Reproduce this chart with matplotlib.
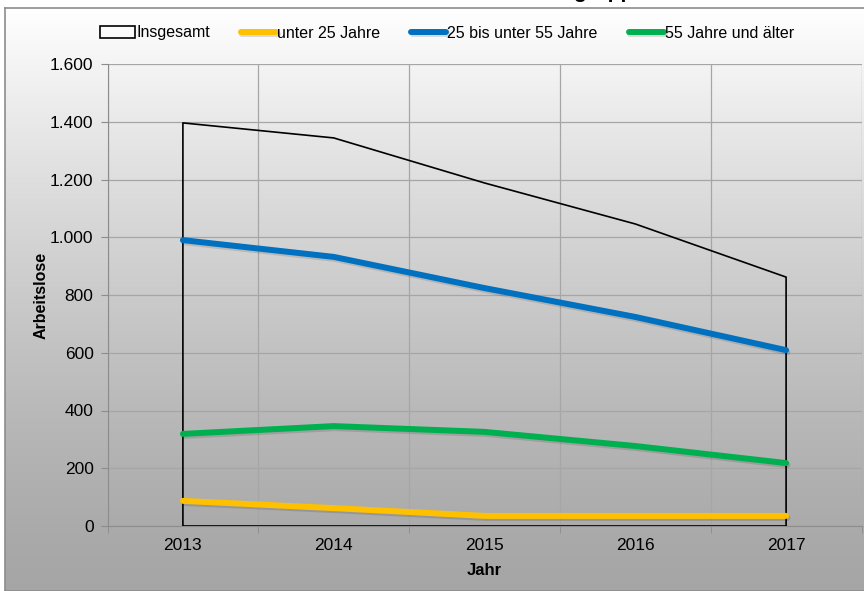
import numpy as np
import matplotlib
matplotlib.use("Agg")
import matplotlib.pyplot as plt
import matplotlib.patheffects as pe
from matplotlib.ticker import FuncFormatter, FixedLocator

plt.rcParams['font.family'] = ['Liberation Sans', 'DejaVu Sans']

# ---- data ----
years = [2013, 2014, 2015, 2016, 2017]
insgesamt = [1396, 1344, 1188, 1046, 862]
unter25 = [87, 62, 35, 35, 35]
mitte = [990, 932, 824, 724, 609]
ab55 = [319, 346, 326, 277, 218]

title = "Arbeitslose im Landkreis nach Altersgruppen"

fig = plt.figure(figsize=(8.64, 5.91), dpi=100)
fig.patch.set_facecolor("white")

# gradient background of the chart area
bg = fig.add_axes([5 / 864, 0, 1, (591 - 8) / 591])
grad = np.linspace(1, 0, 256).reshape(-1, 1) ** 1.3
grad = 0.65 + 0.35 * grad
bg.imshow(np.dstack([grad, grad, grad]), aspect="auto", extent=[0, 1, 0, 1])
bg.set_xticks([])
bg.set_yticks([])
for s in bg.spines.values():
    s.set_color("#8c8c8c")
    s.set_linewidth(1.2)

# title is cropped in the reference: only the descenders peek in at the top
fig.text(0.5, 1.0 + 2.5 / 591, title, ha="center", va="baseline",
         fontsize=15, fontweight="bold")

ax = fig.add_axes([107.5 / 864, 65 / 591, 754 / 864, 462 / 591])
ax.set_facecolor("none")

shadow = [pe.SimpleLineShadow(offset=(1, -1.5), alpha=0.12, shadow_color="black"), pe.Normal()]

ax.fill_between(years, insgesamt, facecolor="none", edgecolor="black",
                linewidth=1.2, label="Insgesamt", zorder=3)
ax.plot(years, unter25, color="#FFC000", lw=4.3, label="unter 25 Jahre",
        solid_capstyle="round", path_effects=shadow, zorder=4)
ax.plot(years, mitte, color="#0070C0", lw=4.3, label="25 bis unter 55 Jahre",
        solid_capstyle="round", path_effects=shadow, zorder=4)
ax.plot(years, ab55, color="#00B050", lw=4.3, label="55 Jahre und älter",
        solid_capstyle="round", path_effects=shadow, zorder=4)

ax.set_xlim(2012.5, 2017.5)
ax.set_ylim(0, 1600)
ax.set_xticks(years)
ax.xaxis.set_minor_locator(FixedLocator([2012.5, 2013.5, 2014.5, 2015.5, 2016.5, 2017.5]))
ax.set_yticks(range(0, 1601, 200))
ax.yaxis.set_major_formatter(FuncFormatter(lambda v, p: f"{int(v):,}".replace(",", ".")))
ax.tick_params(axis="x", which="major", length=0, pad=9, labelsize=12.5)
ax.tick_params(axis="x", which="minor", length=5, color="#8c8c8c", direction="out")
ax.tick_params(axis="y", length=5, color="#8c8c8c", labelsize=12.5, pad=5)

ax.grid(True, axis="y", color="#a6a6a6", lw=0.9)
ax.grid(True, axis="x", which="minor", color="#a6a6a6", lw=0.9)
for side in ["top", "right"]:
    ax.spines[side].set_visible(False)
ax.spines["left"].set_color("#8c8c8c")
ax.spines["bottom"].set_color("#8c8c8c")

ax.set_xlabel("Jahr", fontweight="bold", fontsize=12, labelpad=7)
ax.set_ylabel("Arbeitslose", fontweight="bold", fontsize=11.5, labelpad=1)

fig.legend(loc="center", bbox_to_anchor=(447 / 864, 1 - 33 / 591), ncol=4,
           frameon=False, fontsize=11.5, handlelength=2.2, handletextpad=0.05,
           columnspacing=1.95)

fig.savefig("out.png", dpi=100)
